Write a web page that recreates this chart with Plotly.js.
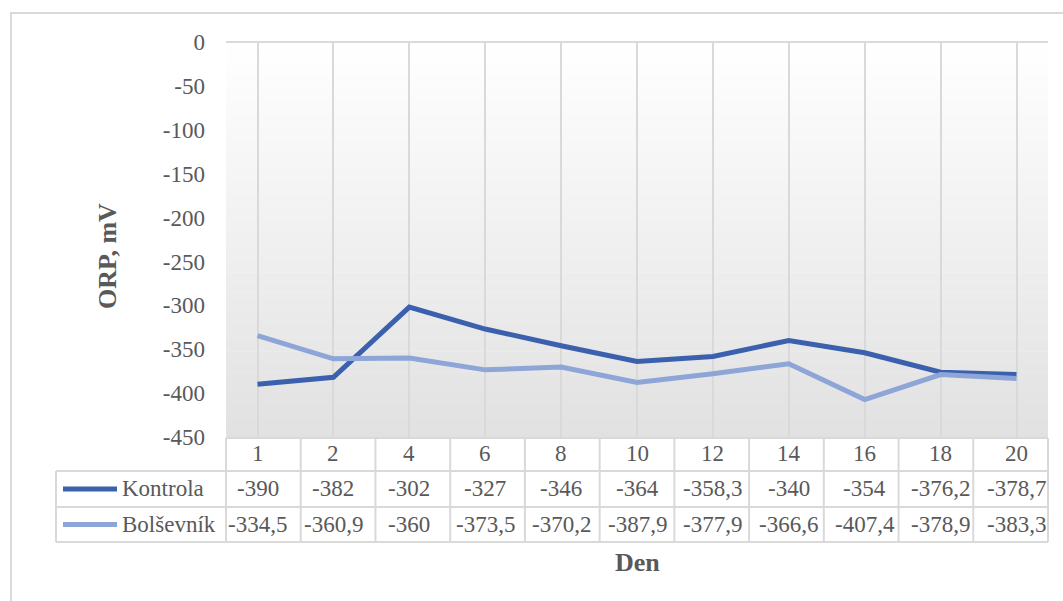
<!DOCTYPE html>
<html>
<head>
<meta charset="utf-8">
<script src="https://cdn.plot.ly/plotly-3.0.1.min.js"></script>
<style>
body { margin: 0; background: #ffffff; }
#orpChart { width: 1063px; height: 601px; }
</style>
</head>
<body>
<div id="orpChart"></div>
<script>
var days = ['1', '2', '4', '6', '8', '10', '12', '14', '16', '18', '20'];
var kontrola = [-390, -382, -302, -327, -346, -364, -358.3, -340, -354, -376.2, -378.7];
var bolsevnik = [-334.5, -360.9, -360, -373.5, -370.2, -387.9, -377.9, -366.6, -407.4, -378.9, -383.3];
var seriesNames = ['Kontrola', 'Bolševník'];
var yTicks = [0, -50, -100, -150, -200, -250, -300, -350, -400, -450];

var textColor = '#595959';
var borderColor = '#d9d9d9';
var seriesColors = ['#3a60ae', '#8ea5d8'];
var serif = 'Liberation Serif';

/*
 * Format a value the way the data table shows it (decimal comma)
 */
function fmt(v) {
    return String(v).replace('.', ',');
}

/*
 * Build the ORP chart with its data table
 */
function drawOrpChart() {
    var series = [kontrola, bolsevnik];
    var data = [];
    for (var s = 0; s < series.length; s++) {
        data.push({
            x: days,
            y: series[s],
            type: 'scatter',
            mode: 'lines',
            line: { color: seriesColors[s], width: 5 },
            name: seriesNames[s],
            showlegend: false,
            hoverinfo: 'x+y+name'
        });
    }

    var shapes = [];
    // plot area gradient, white at the top to light grey at the bottom
    var steps = 60;
    for (var i = 0; i < steps; i++) {
        var g = Math.round(255 - (255 - 225) * (i + 0.5) / steps);
        shapes.push({
            type: 'rect', xref: 'paper', yref: 'paper',
            x0: 0, x1: 1, y0: 1 - i / steps, y1: 1 - (i + 1) / steps - 0.001,
            fillcolor: 'rgb(' + g + ',' + g + ',' + g + ')',
            line: { width: 0 }, layer: 'below'
        });
    }

    // outer chart border
    shapes.push({
        type: 'rect', xref: 'paper', yref: 'paper',
        x0: -0.2616, x1: 1.3, y0: 1.0734, y1: -0.6,
        line: { color: borderColor, width: 2 }, layer: 'below'
    });

    // data table grid
    var n = days.length;
    var rowTop = -0.0025, row1 = -0.086, row2 = -0.177, row3 = -0.266;
    var legendLeft = -0.2068;
    shapes.push({ type: 'line', xref: 'paper', yref: 'paper', x0: 0, x1: 1, y0: rowTop, y1: rowTop, line: { color: borderColor, width: 2 } });
    [row1, row2, row3].forEach(function (yy) {
        shapes.push({ type: 'line', xref: 'paper', yref: 'paper', x0: legendLeft, x1: 1, y0: yy, y1: yy, line: { color: borderColor, width: 2 } });
    });
    shapes.push({ type: 'line', xref: 'paper', yref: 'paper', x0: legendLeft, x1: legendLeft, y0: row1, y1: row3, line: { color: borderColor, width: 2 } });
    for (var k = 0; k <= n; k++) {
        shapes.push({ type: 'line', xref: 'paper', yref: 'paper', x0: k / n, x1: k / n, y0: rowTop, y1: row3, line: { color: borderColor, width: 2 } });
    }

    // legend keys inside the table
    var rowCenters = [-0.1316, -0.2215];
    for (var s2 = 0; s2 < series.length; s2++) {
        shapes.push({
            type: 'line', xref: 'paper', yref: 'paper',
            x0: -0.1983, x1: -0.1326, y0: rowCenters[s2], y1: rowCenters[s2],
            line: { color: seriesColors[s2], width: 5 }
        });
    }

    var cellFont = { family: serif, size: 23, color: textColor };
    var annotations = [];
    for (var c = 0; c < n; c++) {
        annotations.push({
            x: c, xref: 'x', y: -0.043, yref: 'paper',
            text: days[c], showarrow: false, font: cellFont,
            xanchor: 'center', yanchor: 'middle'
        });
        for (var r = 0; r < series.length; r++) {
            annotations.push({
                x: c, xref: 'x', y: rowCenters[r], yref: 'paper',
                text: fmt(series[r][c]), showarrow: false, font: cellFont,
                xanchor: 'center', yanchor: 'middle'
            });
        }
    }
    for (var r2 = 0; r2 < seriesNames.length; r2++) {
        annotations.push({
            x: -0.1285, xref: 'paper', y: rowCenters[r2], yref: 'paper',
            text: seriesNames[r2], showarrow: false, font: cellFont,
            xanchor: 'left', yanchor: 'middle'
        });
    }

    // axis titles
    annotations.push({
        x: 0.5, xref: 'paper', y: -0.3165, yref: 'paper',
        text: '<b>Den</b>', showarrow: false,
        font: { family: serif, size: 26, color: textColor },
        xanchor: 'center', yanchor: 'middle'
    });
    annotations.push({
        x: -0.1448, xref: 'paper', y: 0.458, yref: 'paper',
        text: '<b>ORP, mV</b>', showarrow: false, textangle: -90,
        font: { family: serif, size: 26, color: textColor },
        xanchor: 'center', yanchor: 'middle'
    });

    var layout = {
        width: 1063,
        height: 601,
        margin: { l: 226, r: 15, t: 42, b: 164 },
        paper_bgcolor: '#ffffff',
        plot_bgcolor: 'rgba(0,0,0,0)',
        font: { family: serif, color: textColor },
        xaxis: {
            type: 'category',
            categoryorder: 'array',
            categoryarray: days,
            showgrid: true,
            gridcolor: borderColor,
            gridwidth: 2,
            showticklabels: false,
            ticks: '',
            zeroline: false,
            showline: false,
            fixedrange: true
        },
        yaxis: {
            range: [-450, 0],
            tickvals: yTicks,
            ticktext: yTicks.map(String),
            showgrid: false,
            zeroline: true,
            zerolinecolor: borderColor,
            zerolinewidth: 2,
            showline: false,
            ticks: '',
            ticklabelstandoff: 20,
            tickfont: { family: serif, size: 23, color: textColor },
            fixedrange: true
        },
        shapes: shapes,
        annotations: annotations
    };
    Plotly.newPlot('orpChart', data, layout, { displayModeBar: false, staticPlot: true });
}

drawOrpChart();
</script>
</body>
</html>
